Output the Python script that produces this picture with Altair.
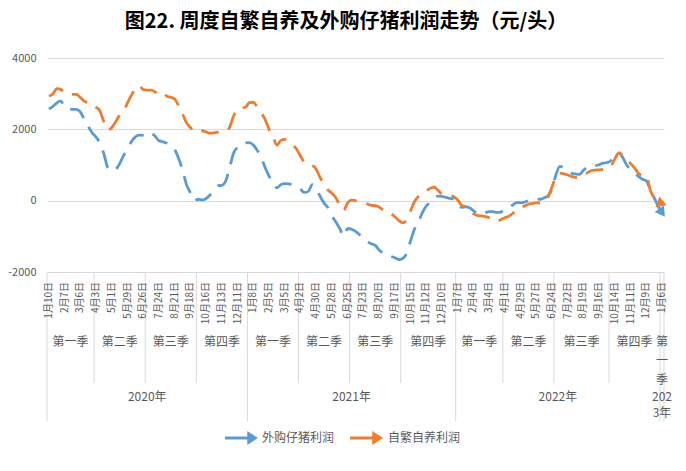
import altair as alt
import pandas as pd

title_text = "图22. 周度自繁自养及外购仔猪利润走势（元/头）"
series_names = ["外购仔猪利润", "自繁自养利润"]
series_colors = ["#5B9BD5", "#ED7D31"]
first_week = "2020-01-10"
n_weeks = 157

# 外购仔猪利润 (weekly, 2020-01-10 .. 2023-01-06)
waigou = [
    2570, 2640, 2740, 2800, 2620, 2570, 2560, 2560, 2480, 2280,
    2080, 1900, 1780, 1600, 1300, 920, 840, 880, 1040, 1270,
    1450, 1660, 1790, 1840, 1830, 1800, 1880, 1810, 1680, 1650,
    1610, 1530, 1430, 1180, 860, 450, 220, 0, 40, 20,
    60, 160, 290, 420, 430, 560, 940, 1340, 1500, 1600,
    1620, 1630, 1560, 1410, 1210, 930, 690, 500, 360, 450,
    480, 470, 440, 380, 320, 230, 260, 450, 340, 120,
    -70, -200, -430, -600, -780, -1000, -780, -800, -860, -950,
    -1060, -1140, -1210, -1250, -1380, -1470, -1520, -1560, -1600, -1650,
    -1620, -1480, -1130, -800, -600, -340, -150, -50, 90, 125,
    120, 90, 65, 40, -30, -190, -170, -200, -280, -370,
    -380, -340, -310, -310, -330, -320, -220, -190, -120, -56,
    -56, -40, 0, 30, 50, 40, 80, 140, 330, 720,
    960, 940, 850, 770, 750, 735, 850, 940, 980, 980,
    1010, 1050, 1070, 1120, 1260, 1340, 1210, 1000, 880, 780,
    680, 600, 560, 280, 80, -150, -340,
]

# 自繁自养利润
zifan = [
    2930, 2990, 3140, 3120, 3020, 2990, 2980, 2980, 2890, 2790,
    2740, 2720, 2620, 2510, 2200, 1980, 2050, 2220, 2400, 2500,
    2750, 2960, 3130, 3220, 3110, 3100, 3100, 3050, 2960, 3010,
    2930, 2900, 2850, 2660, 2430, 2180, 2050, 1940, 1950, 1960,
    1930, 1890, 1900, 1920, 1940, 1950, 2070, 2380, 2570, 2600,
    2620, 2750, 2760, 2620, 2460, 2280, 2000, 1790, 1560, 1690,
    1720, 1670, 1560, 1450, 1250, 1080, 1040, 990, 880, 650,
    460, 300, 210, 80, -130, -270, -60, 15, 0, -20,
    -56, -90, -130, -140, -180, -250, -280, -360, -450, -550,
    -620, -540, -290, -30, 120, 220, 280, 340, 380, 290,
    190, 170, 140, 110, 20, -130, -170, -290, -370, -410,
    -430, -445, -480, -540, -590, -530, -477, -435, -360, -260,
    -200, -150, -100, -80, -60, -70, -40, 100, 380, 680,
    770, 750, 720, 680, 650, 643, 710, 780, 840, 859,
    865, 876, 915, 972, 1170, 1340, 1280, 1180, 1040, 920,
    770, 710, 700, 300, 80, -56, -80,
]

date_labels = [
    "1月10日", "2月7日", "3月6日", "4月3日", "5月1日", "5月29日", "6月26日",
    "7月24日", "8月21日", "9月18日", "10月16日", "11月13日", "12月11日",
    "1月8日", "2月5日", "3月5日", "4月2日", "4月30日", "5月28日", "6月25日",
    "7月23日", "8月20日", "9月17日", "10月15日", "11月12日", "12月10日",
    "1月7日", "2月4日", "3月4日", "4月1日", "4月29日", "5月27日", "6月24日",
    "7月22日", "8月19日", "9月16日", "10月14日", "11月11日", "12月9日",
    "1月6日",
]
label_step = 4
quarter_names = ["第一季", "第二季", "第三季", "第四季"]
y_ticks = [-2000, -1000, 0, 1000, 2000, 3000, 4000]

FONT = "Noto Sans CJK SC"
GREY = "#595959"
GRID = "#D9D9D9"
W, H = 617, 214
ARROW = "M-1,-0.09L0.35,-0.09L0.35,-0.42L1,0L0.35,0.42L0.35,0.09L-1,0.09Z"

# ---------- data tables ----------
dates = pd.date_range(first_week, periods=n_weeks, freq="7D")
wk = pd.DataFrame({"i": list(range(n_weeks)),
                   "year": [int(d.year) for d in dates],
                   "q": [int(d.quarter) for d in dates]})

long = pd.concat([
    pd.DataFrame({"i": list(range(n_weeks)), "value": waigou, "series": series_names[0]}),
    pd.DataFrame({"i": list(range(n_weeks)), "value": zifan, "series": series_names[1]}),
], ignore_index=True)

lab = pd.DataFrame({"i": [k * label_step for k in range(len(date_labels))], "text": date_labels})

# quarter / year labels; a one-week group is written one piece per line
qg = wk.groupby(["year", "q"])["i"].agg(["min", "max", "count"]).reset_index()
qrows = []
for _, r in qg.iterrows():
    name = quarter_names[int(r["q"]) - 1]
    c = (float(r["min"]) + float(r["max"])) / 2
    parts = list(name) if int(r["count"]) == 1 else [name]
    for k, p in enumerate(parts):
        qrows.append({"c": c, "line": k, "text": p})
qlab = pd.DataFrame(qrows)

yg = wk.groupby("year")["i"].agg(["min", "max", "count"]).reset_index()
yrows = []
for _, r in yg.iterrows():
    name = f"{int(r['year'])}年"
    c = (float(r["min"]) + float(r["max"])) / 2
    parts = [name[:3], name[3:]] if int(r["count"]) == 1 else [name]
    for k, p in enumerate(parts):
        yrows.append({"c": c, "line": k, "text": p})
ylab = pd.DataFrame(yrows)

year_starts = set(int(v) for v in yg["min"])
qb = pd.DataFrame({"b": [int(m) - 0.5 for m in qg["min"] if int(m) not in year_starts]})
yb = pd.DataFrame({"b": [int(m) - 0.5 for m in yg["min"]] + [n_weeks - 0.5]})

leg = pd.DataFrame({"k": [0, 1], "series": series_names})

xs = alt.Scale(domain=[-0.5, n_weeks - 0.5], nice=False, zero=False)
ys = alt.Scale(domain=[-2000, 4000], nice=False)
cscale = alt.Scale(domain=series_names, range=series_colors)

lines = alt.Chart(long).mark_line(
    strokeWidth=2.8, strokeDash=[18, 10], interpolate="monotone"
).encode(
    x=alt.X("i:Q", scale=xs, axis=None),
    y=alt.Y("value:Q", scale=ys, axis=alt.Axis(
        values=y_ticks, title=None, domain=False, ticks=False, grid=True,
        gridColor=GRID, labelFont=FONT, labelFontSize=11, labelColor=GREY,
        labelPadding=11, labelExpr="'' + datum.value")),
    color=alt.Color("series:N", scale=cscale, legend=None),
)

last = long[long["i"] == n_weeks - 1]
arrow_b = alt.Chart(last[last["series"] == series_names[0]]).mark_point(
    shape="triangle-right", filled=True, size=130, angle=55, opacity=1,
    color=series_colors[0]).encode(x=alt.X("i:Q", scale=xs, axis=None), y=alt.Y("value:Q", scale=ys))
arrow_o = alt.Chart(last[last["series"] == series_names[1]]).mark_point(
    shape="triangle-right", filled=True, size=130, angle=20, opacity=1,
    color=series_colors[1]).encode(x=alt.X("i:Q", scale=xs, axis=None), y=alt.Y("value:Q", scale=ys))

qrules = alt.Chart(qb).mark_rule(color=GRID, strokeWidth=1).encode(
    x=alt.X("b:Q", scale=xs, axis=None), y=alt.value(H), y2=alt.value(H + 111))
yrules = alt.Chart(yb).mark_rule(color=GRID, strokeWidth=1).encode(
    x=alt.X("b:Q", scale=xs, axis=None), y=alt.value(H), y2=alt.value(H + 149))

dtext = alt.Chart(lab).mark_text(
    angle=270, align="right", baseline="middle", font=FONT, fontSize=10, color=GREY
).encode(x=alt.X("i:Q", scale=xs, axis=None), y=alt.value(H + 10), text="text:N")

qtext = alt.Chart(qlab).transform_calculate(py=f"{H + 70} + datum.line * 19").mark_text(
    align="center", baseline="middle", font=FONT, fontSize=12, color=GREY
).encode(x=alt.X("c:Q", scale=xs, axis=None), y=alt.Y("py:Q", scale=None, axis=None), text="text:N")

ytext = alt.Chart(ylab).transform_calculate(py=f"{H + 125} + datum.line * 16").mark_text(
    align="center", baseline="middle", font=FONT, fontSize=12, color=GREY
).encode(x=alt.X("c:Q", scale=xs, axis=None), y=alt.Y("py:Q", scale=None, axis=None), text="text:N")

# legend drawn by hand: arrow symbol + label per series
leg_sym = alt.Chart(leg).transform_calculate(px="194.5 + datum.k * 125").mark_point(
    shape=ARROW, filled=True, size=1089, opacity=1
).encode(x=alt.X("px:Q", scale=None, axis=None), y=alt.value(380),
         color=alt.Color("series:N", scale=cscale, legend=None))
leg_txt = alt.Chart(leg).transform_calculate(px="215 + datum.k * 126").mark_text(
    align="left", baseline="middle", font=FONT, fontSize=12, color=GREY
).encode(x=alt.X("px:Q", scale=None, axis=None), y=alt.value(380), text="series:N")

ttl = alt.Chart(pd.DataFrame({"t": [title_text]})).mark_text(
    align="center", baseline="middle", font=FONT, fontSize=20, fontWeight="bold",
    color="#000000"
).encode(x=alt.value(299), y=alt.value(-36), text="t:N")

chart = alt.layer(
    qrules, yrules, dtext, qtext, ytext, lines, arrow_b, arrow_o, leg_sym, leg_txt, ttl
).properties(
    width=W, height=H,
    background="white",
    autosize=alt.AutoSizeParams(type="none"),
    padding={"left": 39, "top": 50, "right": 14, "bottom": 191},
).configure_view(stroke=None)

chart.save("out.html", embed_options={"renderer": "svg", "actions": False})
